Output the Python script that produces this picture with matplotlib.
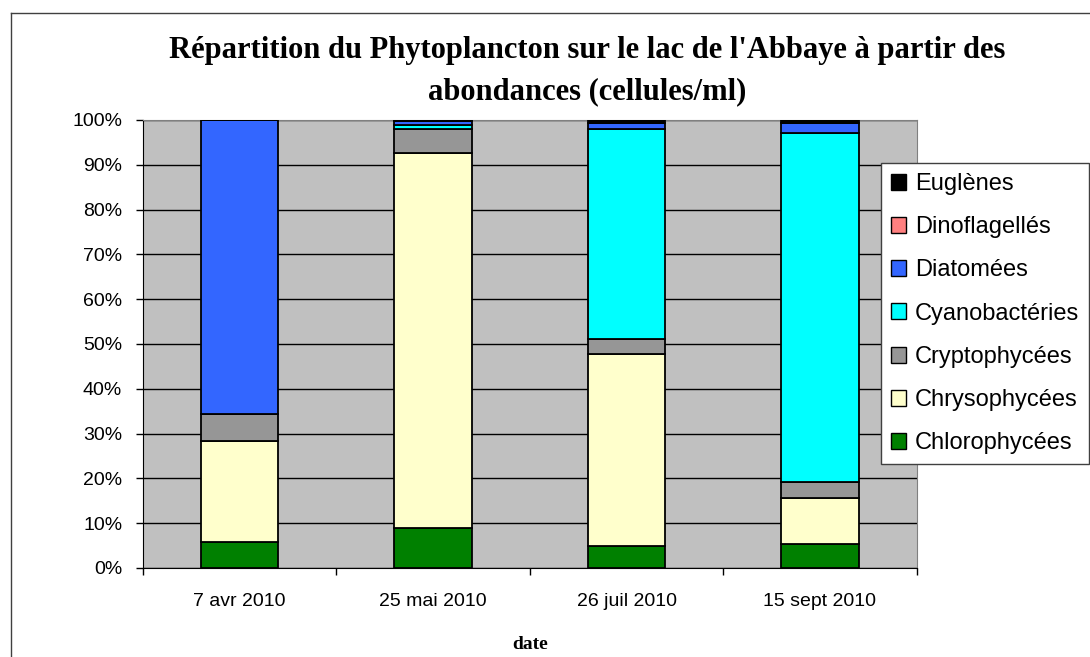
import numpy as np
import matplotlib.pyplot as plt
from matplotlib.lines import Line2D
from matplotlib.patches import Patch

dates = ["7 avr 2010", "25 mai 2010", "26 juil 2010", "15 sept 2010"]

chlorophycees = [5.7, 8.9, 4.9, 5.3]
chrysophycees = [22.6, 83.8, 42.8, 10.3]
cryptophycees = [6.0, 5.3, 3.5, 3.5]
cyanobacteries = [0.0, 0.8, 46.8, 78.1]
diatomees = [65.7, 0.9, 1.3, 2.2]
dinoflagelles = [0.0, 0.0, 0.1, 0.0]
euglenes = [0.0, 0.3, 0.6, 0.6]

series = [
    ("Chlorophycées", chlorophycees, "#008000"),
    ("Chrysophycées", chrysophycees, "#FFFFCC"),
    ("Cryptophycées", cryptophycees, "#969696"),
    ("Cyanobactéries", cyanobacteries, "#00FFFF"),
    ("Diatomées", diatomees, "#3366FF"),
    ("Dinoflagellés", dinoflagelles, "#FF8080"),
    ("Euglènes", euglenes, "#000000"),
]

W, H = 1090, 657
fig = plt.figure(figsize=(W / 100, H / 100), dpi=100)
ax = fig.add_axes([143 / W, 1 - 568 / H, (916.7 - 143) / W, (568 - 120) / H])
ax.set_facecolor("#C0C0C0")

x = np.arange(len(dates))
totals = np.sum([s[1] for s in series], axis=0)
bottom = np.zeros(len(dates))
for name, vals, col in series:
    pct = np.array(vals) / totals * 100
    ax.bar(x, pct, 0.4, bottom=bottom, color=col, edgecolor="black",
           linewidth=1.3, zorder=3)
    bottom += pct

ax.set_xlim(-0.5, len(dates) - 0.5)
ax.set_ylim(0, 100)
ax.set_yticks(np.arange(0, 101, 10))
ax.set_yticklabels([f"{v}%" for v in range(0, 101, 10)])
ax.yaxis.grid(True, color="black", linewidth=1, zorder=1)
ax.set_axisbelow(True)

ax.set_xticks(x)
ax.set_xticklabels(dates)
ax.set_xticks(np.arange(-0.5, len(dates)), minor=True)
ax.tick_params(axis="x", which="major", length=0, pad=18)
ax.tick_params(axis="x", which="minor", length=5, width=1, direction="out")
ax.tick_params(axis="y", length=5, width=1, direction="out", pad=10)
for lab in ax.get_xticklabels() + ax.get_yticklabels():
    lab.set_fontfamily("Liberation Sans")
    lab.set_fontsize(14)

for side in ["top", "right"]:
    ax.spines[side].set_color("#808080")
ax.spines["left"].set_color("black")
ax.spines["bottom"].set_color("black")

ax.set_xlabel("date", fontfamily="Liberation Serif", fontweight="bold",
              fontsize=14, labelpad=19)

title_lines = ["Répartition du Phytoplancton sur le lac de l'Abbaye à partir des",
               "abondances (cellules/ml)"]
for line, yb in zip(title_lines, [58, 99]):
    fig.text(587 / W, 1 - yb / H, line, ha="center", va="baseline",
             fontfamily="Liberation Serif", fontweight="bold", fontsize=22)

# chart frame
fig.add_artist(Line2D([11 / W, 1], [1 - 13 / H, 1 - 13 / H], color="#404040", lw=1))
fig.add_artist(Line2D([11 / W, 11 / W], [0, 1 - 13 / H], color="#404040", lw=1))

handles = [Patch(facecolor=c, edgecolor="black", linewidth=1, label=n)
           for n, _, c in reversed(series)]
leg = fig.legend(handles=handles, loc="upper left",
                 bbox_to_anchor=(880.7 / W, 1 - 163 / H),
                 prop={"family": "Liberation Sans", "size": 17},
                 frameon=True, fancybox=False, edgecolor="#404040",
                 framealpha=1, facecolor="white",
                 handlelength=0.66, handleheight=0.66, handletextpad=0.38,
                 labelspacing=0.9, borderpad=0.42, borderaxespad=0)
leg.get_frame().set_linewidth(1)

fig.savefig("out.png", dpi=100)
